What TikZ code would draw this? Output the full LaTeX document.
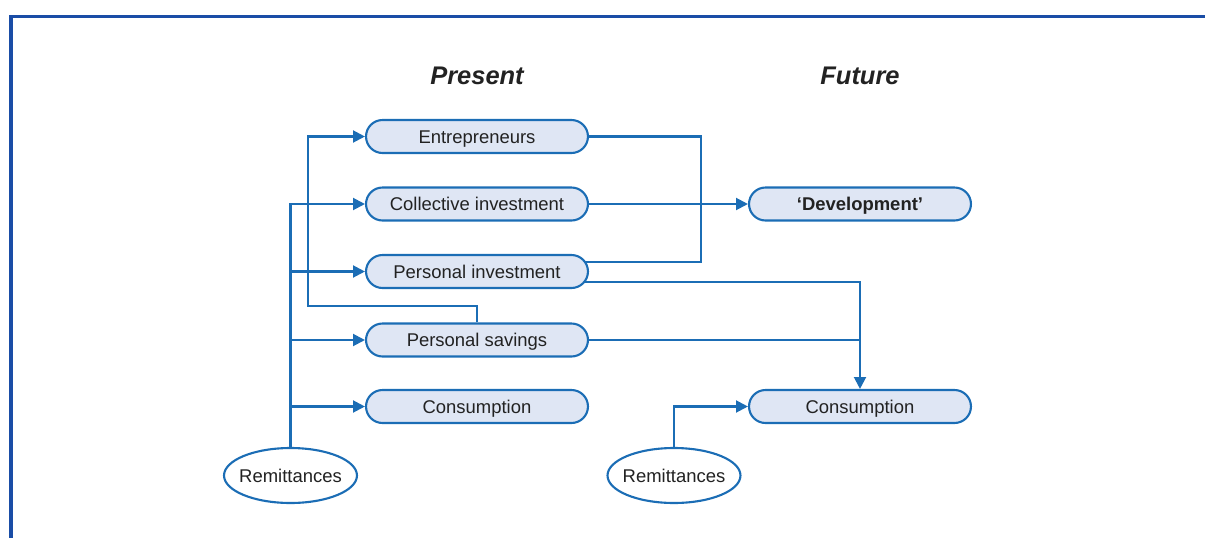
\documentclass[tikz,border=0pt]{standalone}
\usepackage{fontspec}
\setmainfont{Liberation Sans}
\usetikzlibrary{arrows.meta,shapes.geometric,shapes.misc,backgrounds}
\definecolor{lineblue}{HTML}{1B6DB5}
\definecolor{boxfill}{HTML}{DFE6F4}
\definecolor{frameblue}{HTML}{1A4DA6}
\definecolor{txt}{HTML}{222222}
\begin{document}
\begin{tikzpicture}[x=0.02cm,y=-0.02cm,
  stage/.style={rounded rectangle, draw=lineblue, line width=1.2pt, fill=boxfill,
    minimum width=4.44cm, minimum height=0.66cm, inner sep=0pt, text=txt,
    text height=7.5pt, text depth=0pt,
    font=\fontsize{10.5}{12}\selectfont},
  source/.style={ellipse, draw=lineblue, line width=1.2pt, fill=white,
    minimum width=2.66cm, minimum height=1.1cm, inner sep=0pt, text=txt,
    text height=7.5pt, text depth=0pt,
    font=\fontsize{10.5}{12}\selectfont},
  heading/.style={text=txt, font=\fontsize{14.5}{17}\selectfont\bfseries\itshape},
  link/.style={draw=lineblue, line width=1.2pt},
  flow/.style={link, -{Triangle[length=6.8pt,width=6.8pt]}}
]
\useasboundingbox (0,0) rectangle (1205,538);

% outer frame
\draw[frameblue, line width=1.8pt] (11,540) -- (11,16.5) -- (1207,16.5);

% column headings
\node[heading] (present) at (477,76) {Present};
\node[heading] (future)  at (860,76) {Future};

% present-time uses
\node[stage] (entr) at (477,136.5) {Entrepreneurs};
\node[stage] (coll) at (477,204)   {Collective investment};
\node[stage] (pinv) at (477,271.5) {Personal investment};
\node[stage] (psav) at (477,340)   {Personal savings};
\node[stage] (consL) at (477,406.5) {Consumption};

% future outcomes
\node[stage, font=\fontsize{10.5}{12}\selectfont\bfseries] (dev) at (860,204) {‘Development’};
\node[stage] (consR) at (860,406.5) {Consumption};

% remittance sources
\node[source] (remL) at (290.5,475.5) {\makebox[0pt]{Remittances}};
\node[source] (remR) at (674,475.5) {\makebox[0pt]{Remittances}};

\coordinate (jog)   at (308,306);
\coordinate (eDrop) at (701,262);

\begin{scope}[on background layer]
  % left remittance bus
  \draw[flow] (remL.north) |- (coll.west);
  \draw[flow] (remL.north |- pinv.west) -- (pinv.west);
  \draw[flow] (remL.north |- psav.west) -- (psav.west);
  \draw[flow] (remL.north |- consL.west) -- (consL.west);
  % savings feed entrepreneurs
  \draw[flow] (psav.north) |- (jog) |- (entr.west);
  % entrepreneurs join personal investment
  \draw[link] (entr.east) -| (eDrop) -- (eDrop -| pinv.center);
  % collective investment to development
  \draw[flow] (coll.east) -- (dev.west);
  % personal investment and savings to future consumption
  \draw[flow] ([yshift=-0.21cm]pinv.center) -| (consR.north);
  \draw[link] (psav.east) -- (psav.east -| consR.north);
  % future remittances
  \draw[flow] (remR.north) |- (consR.west);
\end{scope}
\end{tikzpicture}
\end{document}
